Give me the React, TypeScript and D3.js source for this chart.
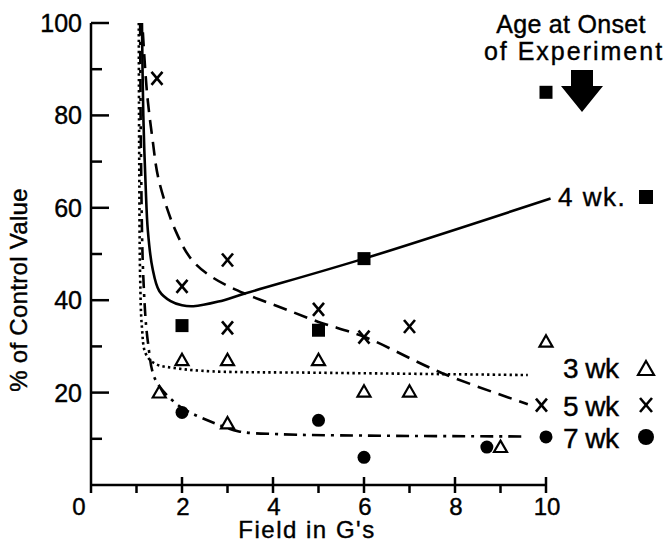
import React from 'react';
import * as d3 from 'd3';

// points: [field G, % of control]
const wk4Points = [[2, 34.5], [5, 33.5], [6, 49], [10, 85]];
const wk5Points = [[1.45, 88], [2, 43], [3, 48.7], [3, 34], [5, 38], [6, 32], [7, 34.3], [9.9, 17.3]];
const wk3Points = [[1.5, 20], [2, 27], [3, 27], [5, 27], [3, 13.3], [6, 20.2], [7, 20.2], [9, 8.2], [10, 31]];
const wk7Points = [[2, 15.7], [5, 14], [6, 6], [8.7, 8.2], [10, 10.4]];

// fitted curves
const wk4Curve = [[1.12, 100], [1.15, 80], [1.2, 65], [1.25, 55], [1.35, 47], [1.5, 42], [1.75, 39.8], [2.0, 38.9], [2.25, 38.7], [2.8, 39.7], [3.4, 41.5], [6, 49], [10.1, 62]];
const wk5Curve = [[1.14, 98], [1.23, 85], [1.35, 75], [1.49, 66], [1.86, 55], [2.22, 48.7], [2.66, 45], [3.36, 41.5], [4.13, 38.6], [5, 35.3], [6, 32.1], [7.72, 24.2], [9.6, 17.5]];
const wk3Curve = [[1.05, 100], [1.06, 70], [1.08, 45], [1.12, 34], [1.2, 28.5], [1.4, 26.3], [1.93, 25.2], [2.66, 24.6], [5, 24.3], [9.6, 23.8]];
const wk7Curve = [[1.08, 100], [1.1, 70], [1.15, 45], [1.25, 31], [1.42, 22.7], [1.86, 17.7], [2.2, 15.6], [2.74, 13.3], [3.25, 11.6], [4.13, 11], [6, 10.7], [9.55, 10.5]];

const xTickLabels = [0, 2, 4, 6, 8, 10];
const yTickLabels = [20, 40, 60, 80, 100];

const FONT = '"Liberation Sans", Arial, sans-serif';

function XMark({ x, y, s = 5.5 }) {
  return (
    <g stroke="#000" strokeWidth={2.6} strokeLinecap="butt">
      <line x1={x - s} y1={y - s - 1} x2={x + s} y2={y + s + 1} />
      <line x1={x + s} y1={y - s - 1} x2={x - s} y2={y + s + 1} />
    </g>
  );
}

function Tri({ x, y, s = 6.5 }) {
  return (
    <path d={`M${x},${y - s}L${x + s},${y + s * 0.75}L${x - s},${y + s * 0.75}Z`}
      fill="#fff" stroke="#000" strokeWidth={2.2} strokeLinejoin="miter" />
  );
}

function Sq({ x, y, s = 13 }) {
  return <rect x={x - s / 2} y={y - s / 2} width={s} height={s} fill="#000" />;
}

export default function App() {
  const width = 670;
  const height = 544;
  const x = d3.scaleLinear().domain([0, 10]).range([91, 546]);
  const y = d3.scaleLinear().domain([0, 100]).range([485, 23]);

  const lineX = d3.line<number[]>()
    .x(d => x(d[0]))
    .y(d => y(d[1]))
    .curve(d3.curveCatmullRom.alpha(0.5));

  const yMinor = y.ticks(10);
  const xMinor = x.ticks(10);

  return (
    <div style={{ position: 'absolute', left: 0, top: 0 }}>
      <svg width={width} height={height} style={{ display: 'block', background: '#fff' }}>
        {/* axes */}
        <line x1={x(0)} x2={x(0)} y1={y(0)} y2={y(100)} stroke="#000" strokeWidth={2.5} />
        <line x1={x(0)} x2={x(10)} y1={y(0)} y2={y(0)} stroke="#000" strokeWidth={2.5} />
        {yMinor.filter(t => t > 0).map(t => (
          <line key={'yt' + t} x1={x(0)} x2={x(0) + (t % 20 === 0 ? 18 : 11)} y1={y(t)} y2={y(t)}
            stroke="#000" strokeWidth={2.5} />
        ))}
        {xMinor.map(t => (
          <line key={'xt' + t} x1={x(t)} x2={x(t)} y1={y(0) + 8} y2={y(0) - (t % 2 === 0 && t > 0 ? 8 : 0)}
            stroke="#000" strokeWidth={2.5} />
        ))}
        <g fontFamily={FONT} fontSize={25} fill="#000" stroke="#000" strokeWidth={0.4}>
          {yTickLabels.map(t => (
            <text key={'yl' + t} x={82} y={y(t) + 9} textAnchor="end">{t}</text>
          ))}
          {xTickLabels.map(t => (
            <text key={'xl' + t} x={t === 0 ? x(t) - 12 : x(t) + 1} y={515} fontSize={24} textAnchor="middle">{t}</text>
          ))}
          <text x={307} y={538} textAnchor="middle" fontSize={24} letterSpacing={1.5}>Field in G's</text>
          <text transform="translate(27,290) rotate(-90)" textAnchor="middle" fontSize={24} letterSpacing={0.3}>% of Control Value</text>
        </g>

        {/* curves */}
        <path d={lineX(wk4Curve) || ''} fill="none" stroke="#000" strokeWidth={2.6} />
        <path d={lineX(wk5Curve) || ''} fill="none" stroke="#000" strokeWidth={2.6} strokeDasharray="14 8" />
        <path d={lineX(wk3Curve) || ''} fill="none" stroke="#000" strokeWidth={2.6} strokeDasharray="2.4 3.2" />
        <path d={lineX(wk7Curve) || ''} fill="none" stroke="#000" strokeWidth={2.6} strokeDasharray="13 6 3 6" />

        {/* points */}
        {wk4Points.map((d, i) => <Sq key={'s' + i} x={x(d[0])} y={y(d[1])} />)}
        {wk5Points.map((d, i) => <XMark key={'x' + i} x={x(d[0])} y={y(d[1])} />)}
        {wk3Points.map((d, i) => <Tri key={'t' + i} x={x(d[0])} y={y(d[1])} />)}
        {wk7Points.map((d, i) => <circle key={'c' + i} cx={x(d[0])} cy={y(d[1])} r={6.5} fill="#000" />)}

        {/* annotation */}
        <g fontFamily={FONT} fontSize={25} fill="#000" stroke="#000" strokeWidth={0.4}>
          <text x={571} y={33} textAnchor="middle" letterSpacing={0.3}>Age at Onset</text>
          <text x={574} y={60} textAnchor="middle" letterSpacing={2}>of Experiment</text>
          <text x={558} y={206} fontSize={26} letterSpacing={1.5}>4 wk.</text>
          <text x={563} y={378} fontSize={28} letterSpacing={-0.5}>3 wk</text>
          <text x={563} y={416} fontSize={28} letterSpacing={-0.5}>5 wk</text>
          <text x={563} y={448} fontSize={28} letterSpacing={-0.5}>7 wk</text>
        </g>
        <path d="M571,70L593,70L593,86L603,86L582,112L561,86L571,86Z" fill="#000" />
        <Sq x={646} y={197} s={14} />
        <Tri x={646} y={369} s={8} />
        <XMark x={646} y={405} s={6} />
        <circle cx={646} cy={437} r={8} fill="#000" />
      </svg>
    </div>
  );
}
